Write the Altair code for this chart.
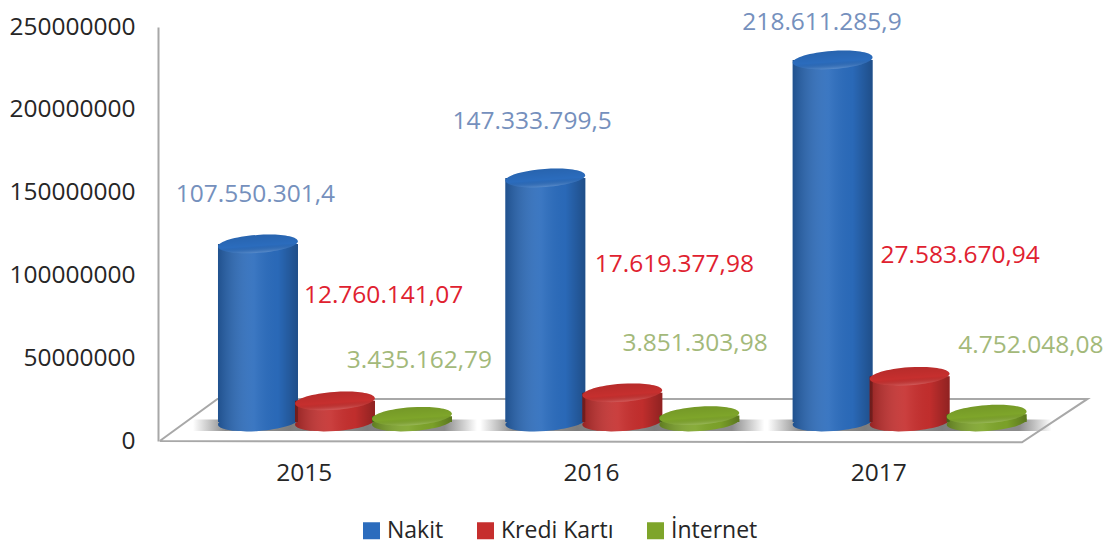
import altair as alt
import pandas as pd

years = ["2015", "2016", "2017"]
year_pos = [0.5, 1.5, 2.5]
series = ["Nakit", "Kredi Kartı", "İnternet"]
series_shift = [-0.159, 0.109, 0.377]
colors = ["#2b6cbd", "#c62f2e", "#7ea52a"]
label_colors = ["#7590bd", "#e0212f", "#a3b97a"]

values = {
    "Nakit": [107550301.4, 147333799.5, 218611285.9],
    "Kredi Kartı": [12760141.07, 17619377.98, 27583670.94],
    "İnternet": [3435162.79, 3851303.98, 4752048.08],
}
labels = {
    "Nakit": ["107.550.301,4", "147.333.799,5", "218.611.285,9"],
    "Kredi Kartı": ["12.760.141,07", "17.619.377,98", "27.583.670,94"],
    "İnternet": ["3.435.162,79", "3.851.303,98", "4.752.048,08"],
}
# label anchors, read in chart units
label_x = {
    "Nakit": [0.332, 1.295, 2.304],
    "Kredi Kartı": [0.778, 1.790, 2.785],
    "İnternet": [0.903, 1.862, 3.031],
}
label_y = {
    "Nakit": [148.5e6, 192.5e6, 252.3e6],
    "Kredi Kartı": [87.5e6, 106.5e6, 111.5e6],
    "İnternet": [48.5e6, 58.5e6, 57.5e6],
}
floor_x = [-0.001, 3.0, 3.228, 0.2, -0.001]
floor_y = [0, -800000, 25400000, 25400000, 0]

rows = []
for s, shift in zip(series, series_shift):
    for i, p in enumerate(year_pos):
        rows.append({
            "series": s, "year": years[i], "x": p + shift,
            "value": values[s][i], "label": labels[s][i],
            "lx": label_x[s][i], "ly": label_y[s][i],
        })
df = pd.DataFrame(rows)
floor_df = pd.DataFrame({"x": floor_x, "y": floor_y, "o": range(len(floor_x))})

FONT = "Open Sans"
xs = alt.Scale(domain=[-0.007, 3.2297], nice=False, zero=False, padding=0)
ys = alt.Scale(domain=[0, 250000000], nice=False)
cs = alt.Scale(domain=series, range=colors)
X = alt.X("x:Q", scale=xs, title=None, axis=alt.Axis(
    values=year_pos, labelExpr="format(2014.5 + datum.value, 'd')", ticks=False, domain=False,
    grid=False, labelFontSize=24.5, labelFont=FONT, labelColor="#262626", labelPadding=20))
Y = alt.Y("value:Q", scale=ys, stack=None, title=None, axis=alt.Axis(
    values=[0, 50000000, 100000000, 150000000, 200000000, 250000000], format="d", ticks=False,
    grid=False, domainColor="#a8a8a8", domainWidth=2, labelFontSize=24.5, labelFont=FONT,
    labelColor="#262626", labelPadding=23))
C = alt.Color("series:N", scale=cs, title=None, legend=alt.Legend(
    orient="none", legendX=202, legendY=492, direction="horizontal", columns=3,
    symbolType="square", symbolSize=289, symbolStrokeWidth=0, labelFont=FONT, labelFontSize=23,
    labelColor="#262626", columnPadding=30, labelOffset=4))

ELL = ("M-1,0C-1,-0.124,-0.552,-0.225,0,-0.225C0.552,-0.225,1,-0.124,1,0"
       "C1,0.124,0.552,0.225,0,0.225C-0.552,0.225,-1,0.124,-1,0Z")
LIFT = -19
TILT = 356
body_grad = alt.LinearGradient(gradient="linear", x1=0, x2=1, y1=0, y2=0, stops=[
    alt.GradientStop(color="rgba(0,0,0,0.25)", offset=0),
    alt.GradientStop(color="rgba(255,255,255,0.08)", offset=0.45),
    alt.GradientStop(color="rgba(0,0,0,0.03)", offset=0.75),
    alt.GradientStop(color="rgba(0,0,0,0.28)", offset=1)])
top_grad = alt.LinearGradient(gradient="linear", x1=0, x2=0, y1=0, y2=1, stops=[
    alt.GradientStop(color="rgba(0,0,0,0.08)", offset=0),
    alt.GradientStop(color="rgba(0,0,0,0.0)", offset=0.6),
    alt.GradientStop(color="rgba(255,255,255,0.22)", offset=1)])
shadow_grad = alt.LinearGradient(gradient="linear", x1=0, x2=1, y1=0, y2=0, stops=[
    alt.GradientStop(color="rgba(110,110,110,0)", offset=0),
    alt.GradientStop(color="rgba(110,110,110,0.8)", offset=0.25),
    alt.GradientStop(color="rgba(110,110,110,0.8)", offset=0.75),
    alt.GradientStop(color="rgba(110,110,110,0)", offset=1)])

base = alt.Chart(df)
floor = alt.Chart(floor_df).mark_line(color="#a8a8a8", strokeWidth=2).encode(
    x=alt.X("x:Q", scale=xs), y=alt.Y("y:Q", scale=ys), order="o:Q")
shadow = base.mark_bar(size=130, fill=shadow_grad, yOffset=-10, y2Offset=-10).encode(
    x=X, y=alt.Y(datum=7000000, scale=ys), y2=alt.Y2(datum=0))
bottom = base.mark_point(shape=ELL, filled=True, size=6400, opacity=1, angle=TILT, yOffset=LIFT).encode(
    x=X, y=alt.Y(datum=0, scale=ys), color=C)
body = base.mark_bar(size=80, yOffset=LIFT, y2Offset=LIFT).encode(
    x=X, y=Y, y2=alt.Y2(datum=0), color=C)
body_shade = base.mark_bar(size=80, fill=body_grad, yOffset=LIFT, y2Offset=LIFT).encode(
    x=X, y=Y, y2=alt.Y2(datum=0))
bottom_shade = base.mark_point(shape=ELL, filled=True, size=6400, opacity=1, angle=TILT, yOffset=LIFT,
                               fill=body_grad).encode(x=X, y=alt.Y(datum=0, scale=ys))
top = base.mark_point(shape=ELL, filled=True, size=6400, opacity=1, angle=TILT, yOffset=LIFT).encode(
    x=X, y=Y, color=C)
top_shade = base.mark_point(shape=ELL, filled=True, size=6400, opacity=1, angle=TILT, yOffset=LIFT,
                            fill=top_grad).encode(x=X, y=Y)
texts = [
    alt.Chart(df[df.series == s]).mark_text(font=FONT, fontSize=24.5, color=c).encode(
        x=alt.X("lx:Q", scale=xs), y=alt.Y("ly:Q", scale=ys), text="label:N")
    for s, c in zip(series, label_colors)
]

chart = alt.layer(
    shadow, floor, bottom, bottom_shade, body, body_shade, top, top_shade, *texts
).properties(
    width=930, height=414, background="white",
    autosize=alt.AutoSizeParams(type="none"),
    padding={"left": 150, "top": 19, "right": 16, "bottom": 103},
).configure_view(stroke=None)

chart.save("out.html", embed_options={"renderer": "svg", "actions": False})
